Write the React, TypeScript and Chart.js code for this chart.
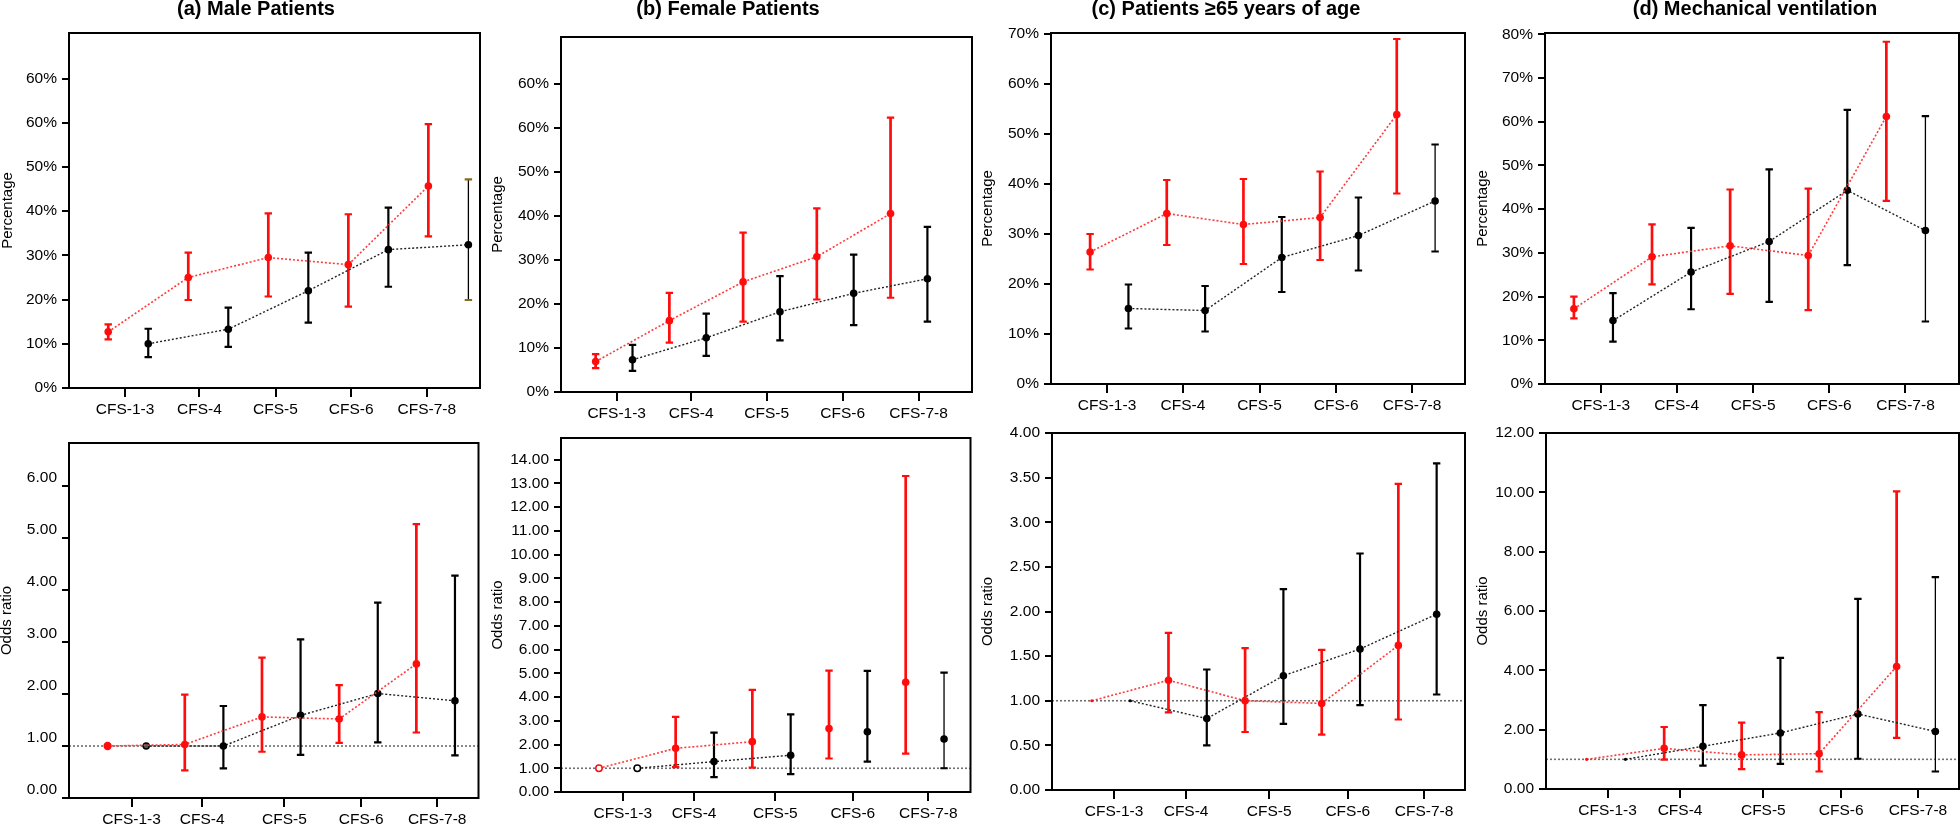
import { useEffect, useRef } from "react";
import { Chart, registerables } from "chart.js";
Chart.register(...registerables);

const FONT = "'Liberation Sans', Arial, Helvetica, sans-serif";
const RED = "#ff0d0d";
const RED_LINE = "#ff3a3a";
const BLACK = "#000000";

const categories = ["CFS-1-3", "CFS-4", "CFS-5", "CFS-6", "CFS-7-8"];

// ---- tick values / labels ----
const pctTicks70 = [0, 10, 20, 30, 40, 50, 60, 70];
const pctLabelsDup = ["0%", "10%", "20%", "30%", "40%", "50%", "60%", "60%"];
const pctLabels70 = ["0%", "10%", "20%", "30%", "40%", "50%", "60%", "70%"];
const pctTicks80 = [0, 10, 20, 30, 40, 50, 60, 70, 80];
const pctLabels80 = ["0%", "10%", "20%", "30%", "40%", "50%", "60%", "70%", "80%"];
const orTicksA = [0, 1, 2, 3, 4, 5, 6];
const orLabelsA = ["0.00", "1.00", "2.00", "3.00", "4.00", "5.00", "6.00"];
const orTicksB = [0, 1, 2, 3, 4, 5, 6, 7, 8, 9, 10, 11, 12, 13, 14];
const orLabelsB = ["0.00", "1.00", "2.00", "3.00", "4.00", "5.00", "6.00", "7.00", "8.00", "9.00", "10.00", "11.00", "12.00", "13.00", "14.00"];
const orTicksC = [0, 0.5, 1, 1.5, 2, 2.5, 3, 3.5, 4];
const orLabelsC = ["0.00", "0.50", "1.00", "1.50", "2.00", "2.50", "3.00", "3.50", "4.00"];
const orTicksD = [0, 2, 4, 6, 8, 10, 12];
const orLabelsD = ["0.00", "2.00", "4.00", "6.00", "8.00", "10.00", "12.00"];

// ---- (a) Male patients: percentage ----
const maleRedPct = [12.7, 25.0, 29.5, 27.9, 45.7];
const maleRedPctLo = [11.0, 19.9, 20.7, 18.4, 34.3];
const maleRedPctHi = [14.4, 30.6, 39.5, 39.3, 59.7];
const maleBlackPct = [10.0, 13.3, 22.0, 31.3, 32.4];
const maleBlackPctLo = [7.0, 9.3, 14.8, 22.9, 19.9];
const maleBlackPctHi = [13.4, 18.2, 30.6, 40.8, 47.2];

// ---- (b) Female patients: percentage ----
const femaleRedPct = [6.9, 16.2, 25.0, 30.7, 40.5];
const femaleRedPctLo = [5.4, 11.2, 16.0, 21.0, 21.4];
const femaleRedPctHi = [8.6, 22.5, 36.2, 41.7, 62.3];
const femaleBlackPct = [7.3, 12.3, 18.2, 22.4, 25.7];
const femaleBlackPctLo = [4.8, 8.2, 11.7, 15.2, 16.0];
const femaleBlackPctHi = [10.7, 17.8, 26.3, 31.2, 37.5];

// ---- (c) Patients >=65: percentage ----
const olderRedPct = [26.4, 34.1, 31.9, 33.3, 53.9];
const olderRedPctLo = [22.9, 27.8, 24.0, 24.8, 38.1];
const olderRedPctHi = [30.0, 40.8, 41.0, 42.5, 69.0];
const olderBlackPct = [15.1, 14.7, 25.3, 29.7, 36.6];
const olderBlackPctLo = [11.1, 10.5, 18.4, 22.7, 26.5];
const olderBlackPctHi = [19.9, 19.6, 33.4, 37.3, 47.9];

// ---- (d) Mechanical ventilation: percentage ----
const ventRedPct = [17.2, 29.1, 31.6, 29.4, 61.2];
const ventRedPctLo = [15.0, 22.8, 20.6, 16.9, 41.9];
const ventRedPctHi = [20.0, 36.5, 44.5, 44.7, 78.3];
const ventBlackPct = [14.5, 25.6, 32.6, 44.3, 35.1];
const ventBlackPctLo = [9.7, 17.1, 18.8, 27.2, 14.3];
const ventBlackPctHi = [20.8, 35.7, 49.1, 62.7, 61.3];

// ---- odds ratios ----
const maleRedOR = [1.0, 1.03, 1.56, 1.52, 2.58];
const maleRedORLo = [null, 0.53, 0.89, 1.06, 1.26];
const maleRedORHi = [null, 1.99, 2.7, 2.17, 5.27];
const maleBlackOR = [1.0, 1.0, 1.59, 2.01, 1.87];
const maleBlackORLo = [null, 0.57, 0.83, 1.07, 0.82];
const maleBlackORHi = [null, 1.77, 3.05, 3.76, 4.28];

const femaleRedOR = [1.0, 1.84, 2.12, 2.67, 4.62];
const femaleRedORLo = [null, 1.05, 1.03, 1.41, 1.62];
const femaleRedORHi = [null, 3.16, 4.3, 5.11, 13.31];
const femaleBlackOR = [1.0, 1.28, 1.55, 2.54, 2.23];
const femaleBlackORLo = [null, 0.63, 0.75, 1.28, 1.0];
const femaleBlackORHi = [null, 2.5, 3.27, 5.1, 5.03];

const olderRedOR = [1.0, 1.23, 1.0, 0.97, 1.62];
const olderRedORLo = [null, 0.87, 0.65, 0.62, 0.79];
const olderRedORHi = [null, 1.76, 1.59, 1.57, 3.43];
const olderBlackOR = [1.0, 0.8, 1.28, 1.58, 1.97];
const olderBlackORLo = [null, 0.5, 0.74, 0.95, 1.07];
const olderBlackORHi = [null, 1.35, 2.25, 2.65, 3.66];

const ventRedOR = [1.0, 1.37, 1.15, 1.19, 4.13];
const ventRedORLo = [null, 0.99, 0.67, 0.59, 1.72];
const ventRedORHi = [null, 2.09, 2.24, 2.59, 10.03];
const ventBlackOR = [1.0, 1.44, 1.89, 2.53, 1.94];
const ventBlackORLo = [null, 0.79, 0.85, 1.02, 0.59];
const ventBlackORHi = [null, 2.83, 4.42, 6.41, 7.14];

type Series = { v: number[]; lo: (number | null)[]; hi: (number | null)[] };
type PanelCfg = {
  title?: string;
  titleX?: number;
  yTitle: string;
  yTitleX: number;
  top: boolean;
  box: [number, number, number, number];
  yMax: number;
  yTicks: number[];
  yLabels: string[];
  yLabelOffset?: number;
  xMin: number;
  xMax: number;
  xTickPos: number[];
  red: Series;
  black: Series;
  lineCount: number;
  refLine: boolean;
  firstPoint?: "ring" | "tiny" | "dark";
  thinLastBlack: boolean;
  brownCapLast?: boolean;
};

const panels: PanelCfg[] = [
  {
    title: "(a) Male Patients", titleX: 256, yTitle: "Percentage", yTitleX: 8, top: true,
    box: [69, 33, 480, 388], yMax: 80.3, yTicks: pctTicks70, yLabels: pctLabelsDup,
    xMin: -0.98, xMax: 9.29, xTickPos: [0.42, 2.28, 4.18, 6.07, 7.96],
    red: { v: maleRedPct, lo: maleRedPctLo, hi: maleRedPctHi },
    black: { v: maleBlackPct, lo: maleBlackPctLo, hi: maleBlackPctHi },
    lineCount: 5, refLine: false, thinLastBlack: true, brownCapLast: true,
  },
  {
    title: "(b) Female Patients", titleX: 728, yTitle: "Percentage", yTitleX: 498, top: true,
    box: [561, 37, 972, 392], yMax: 80.6, yTicks: pctTicks70, yLabels: pctLabelsDup,
    xMin: -0.94, xMax: 10.21, xTickPos: [0.57, 2.59, 4.64, 6.7, 8.76],
    red: { v: femaleRedPct, lo: femaleRedPctLo, hi: femaleRedPctHi },
    black: { v: femaleBlackPct, lo: femaleBlackPctLo, hi: femaleBlackPctHi },
    lineCount: 5, refLine: false, thinLastBlack: false,
  },
  {
    title: "(c) Patients \u226565 years of age", titleX: 1226, yTitle: "Percentage", yTitleX: 988, top: true,
    box: [1051, 33, 1465, 384], yMax: 70.2, yTicks: pctTicks70, yLabels: pctLabels70,
    xMin: -1.02, xMax: 9.78, xTickPos: [0.44, 2.42, 4.42, 6.42, 8.4],
    red: { v: olderRedPct, lo: olderRedPctLo, hi: olderRedPctHi },
    black: { v: olderBlackPct, lo: olderBlackPctLo, hi: olderBlackPctHi },
    lineCount: 5, refLine: false, thinLastBlack: true,
  },
  {
    title: "(d) Mechanical ventilation", titleX: 1755, yTitle: "Percentage", yTitleX: 1483, top: true,
    box: [1545, 33, 1959, 384], yMax: 80.3, yTicks: pctTicks80, yLabels: pctLabels80,
    xMin: -0.74, xMax: 9.86, xTickPos: [0.69, 2.63, 4.59, 6.54, 8.49],
    red: { v: ventRedPct, lo: ventRedPctLo, hi: ventRedPctHi },
    black: { v: ventBlackPct, lo: ventBlackPctLo, hi: ventBlackPctHi },
    lineCount: 5, refLine: false, thinLastBlack: true,
  },
  {
    yTitle: "Odds ratio", yTitleX: 7, top: false,
    box: [69, 443, 480, 798], yMax: 6.83, yTicks: orTicksA, yLabels: orLabelsA, yLabelOffset: -8,
    xMin: -1.0, xMax: 9.61, xTickPos: [0.62, 2.45, 4.58, 6.57, 8.54],
    red: { v: maleRedOR, lo: maleRedORLo, hi: maleRedORHi },
    black: { v: maleBlackOR, lo: maleBlackORLo, hi: maleBlackORHi },
    lineCount: 5, refLine: true, firstPoint: "dark", thinLastBlack: false,
  },
  {
    yTitle: "Odds ratio", yTitleX: 498, top: false,
    box: [561, 438, 972, 792], yMax: 14.91, yTicks: orTicksB, yLabels: orLabelsB,
    xMin: -0.99, xMax: 9.69, xTickPos: [0.62, 2.48, 4.6, 6.62, 8.59],
    red: { v: femaleRedOR, lo: femaleRedORLo, hi: femaleRedORHi },
    black: { v: femaleBlackOR, lo: femaleBlackORLo, hi: femaleBlackORHi },
    lineCount: 3, refLine: true, firstPoint: "ring", thinLastBlack: true,
  },
  {
    yTitle: "Odds ratio", yTitleX: 988, top: false,
    box: [1052, 433, 1465, 790], yMax: 4.0, yTicks: orTicksC, yLabels: orLabelsC,
    xMin: -1.04, xMax: 9.74, xTickPos: [0.58, 2.46, 4.63, 6.68, 8.67],
    red: { v: olderRedOR, lo: olderRedORLo, hi: olderRedORHi },
    black: { v: olderBlackOR, lo: olderBlackORLo, hi: olderBlackORHi },
    lineCount: 5, refLine: true, firstPoint: "tiny", thinLastBlack: false,
  },
  {
    yTitle: "Odds ratio", yTitleX: 1483, top: false,
    box: [1546, 433, 1959, 789], yMax: 12.0, yTicks: orTicksD, yLabels: orLabelsD,
    xMin: -1.05, xMax: 9.61, xTickPos: [0.54, 2.41, 4.56, 6.57, 8.55],
    red: { v: ventRedOR, lo: ventRedORLo, hi: ventRedORHi },
    black: { v: ventBlackOR, lo: ventBlackORLo, hi: ventBlackORHi },
    lineCount: 5, refLine: true, firstPoint: "tiny", thinLastBlack: true,
  },
];

function Panel({ p }: { p: PanelCfg }) {
  const ref = useRef<HTMLCanvasElement>(null);
  const canvasLeft = Math.round(p.yTitleX - 9);
  const canvasTop = p.top ? 0 : 410;
  const [bL, bT, bR, bB] = p.box;
  const width = bR + 4 - canvasLeft;
  const height = bB + 36 - canvasTop;

  useEffect(() => {
    const series = [p.red, p.black];
    const colors = [RED, BLACK];
    const lineColors = [RED_LINE, "#222222"];

    const pointRadius = (si: number) =>
      series[si].v.map((_, i) => {
        if (i === 0 && p.firstPoint === "tiny") return 1.6;
        if (i === 0 && p.firstPoint === "ring") return 3.2;
        if (i === 0 && p.firstPoint === "dark") return si === 0 ? 3.4 : 3;
        return 3.8;
      });
    const pointBg = (si: number) =>
      series[si].v.map((_, i) => {
        if (i === 0 && p.firstPoint === "ring") return "#ffffff";
        if (i === 0 && p.firstPoint === "dark" && si === 1) return "#555555";
        return colors[si];
      });
    const pointBw = (si: number) =>
      series[si].v.map((_, i) => (i === 0 && (p.firstPoint === "ring" || p.firstPoint === "dark") ? 1.5 : 0));

    const datasets = series.map((s, si) => ({
      label: si === 0 ? "red" : "black",
      data: s.v.map((v, i) => ({ x: 2 * i + si, y: v })),
      borderColor: lineColors[si],
      borderWidth: si === 0 ? 1.6 : 1.4,
      borderDash: [2, 2],
      fill: false,
      tension: 0,
      pointRadius: pointRadius(si),
      pointBackgroundColor: pointBg(si),
      pointBorderColor: colors[si],
      pointBorderWidth: pointBw(si),
      segment: {
        borderColor: (ctx: any) => (ctx.p1DataIndex >= p.lineCount ? "rgba(0,0,0,0)" : lineColors[si]),
      },
    }));

    const decor = {
      id: "decor",
      beforeDatasetsDraw(chart: any) {
        const { ctx, chartArea: a, scales } = chart;
        const y = scales.y;
        ctx.save();
        if (p.refLine) {
          const yy = y.getPixelForValue(1);
          ctx.strokeStyle = "#707070";
          ctx.lineWidth = 1.6;
          ctx.setLineDash([2, 2]);
          ctx.beginPath();
          ctx.moveTo(a.left, yy);
          ctx.lineTo(a.right, yy);
          ctx.stroke();
          ctx.setLineDash([]);
        }
        series.forEach((s, si) => {
          const meta = chart.getDatasetMeta(si);
          s.lo.forEach((lo, i) => {
            const hi = s.hi[i];
            if (lo == null || hi == null) return;
            const el = meta.data[i];
            const x = el.x;
            const y1 = y.getPixelForValue(lo);
            const y2 = y.getPixelForValue(hi);
            const thin = si === 1 && i === 4 && p.thinLastBlack;
            ctx.lineWidth = thin ? 1.3 : si === 0 ? 2.7 : 2.2;
            ctx.strokeStyle = colors[si];
            ctx.beginPath();
            ctx.moveTo(x, y1);
            ctx.lineTo(x, y2);
            ctx.stroke();
            ctx.lineWidth = 2.2;
            if (si === 1 && i === 4 && p.brownCapLast) ctx.strokeStyle = "#8a6a1e";
            ctx.beginPath();
            ctx.moveTo(x - 3.7, y1);
            ctx.lineTo(x + 3.7, y1);
            ctx.moveTo(x - 3.7, y2);
            ctx.lineTo(x + 3.7, y2);
            ctx.stroke();
          });
        });
        ctx.restore();
      },
      afterDraw(chart: any) {
        const { ctx, chartArea: a } = chart;
        ctx.save();
        ctx.strokeStyle = BLACK;
        ctx.lineWidth = 2;
        ctx.strokeRect(a.left, a.top, a.right - a.left, a.bottom - a.top);
        if (p.title && p.titleX !== undefined) {
          ctx.fillStyle = BLACK;
          ctx.font = `bold 20px ${FONT}`;
          ctx.textAlign = "center";
          ctx.textBaseline = "alphabetic";
          ctx.fillText(p.title, p.titleX - canvasLeft, 15 - canvasTop);
        }
        ctx.restore();
      },
    };

    const chart = new Chart(ref.current as HTMLCanvasElement, {
      type: "line",
      data: { datasets } as any,
      options: {
        animation: false,
        responsive: false,
        devicePixelRatio: 1,
        events: [],
        layout: { padding: { left: 0, top: bT - canvasTop, right: 4, bottom: 0 } },
        plugins: { legend: { display: false }, tooltip: { enabled: false }, title: { display: false } },
        scales: {
          x: {
            type: "linear",
            min: p.xMin,
            max: p.xMax,
            afterBuildTicks: (s: any) => {
              s.ticks = p.xTickPos.map((v) => ({ value: v }));
            },
            afterFit: (s: any) => {
              s.height = 36;
            },
            ticks: {
              autoSkip: false,
              maxRotation: 0,
              padding: 3,
              color: BLACK,
              font: { family: FONT, size: 15.5 },
              callback: (_v: any, i: number) => categories[i],
            },
            grid: { drawOnChartArea: false, drawTicks: true, tickLength: 9, lineWidth: 2, color: BLACK },
            border: { display: false },
          },
          y: {
            type: "linear",
            min: 0,
            max: p.yMax,
            afterBuildTicks: (s: any) => {
              s.ticks = p.yTicks.map((v) => ({ value: v }));
            },
            afterFit: (s: any) => {
              s.width = bL - canvasLeft;
            },
            ticks: {
              autoSkip: false,
              padding: 5,
              color: BLACK,
              labelOffset: p.yLabelOffset || 0,
              font: { family: FONT, size: 15.5 },
              callback: (_v: any, i: number) => p.yLabels[i],
            },
            grid: { drawOnChartArea: false, drawTicks: true, tickLength: 7, lineWidth: 2, color: BLACK },
            border: { display: false },
            title: {
              display: true,
              text: p.yTitle,
              color: BLACK,
              padding: 0,
              font: { family: FONT, size: 15 },
            },
          },
        },
      } as any,
      plugins: [decor],
    });
    return () => chart.destroy();
  }, []);

  return (
    <canvas
      ref={ref}
      width={width}
      height={height}
      style={{ position: "absolute", left: canvasLeft, top: canvasTop, width, height }}
    />
  );
}

export default function App() {
  return (
    <div
      style={{
        position: "absolute",
        left: 0,
        top: 0,
        width: 1960,
        height: 826,
        overflow: "hidden",
        background: "#ffffff",
      }}
    >
      {panels.map((p, i) => (
        <Panel key={i} p={p} />
      ))}
    </div>
  );
}
